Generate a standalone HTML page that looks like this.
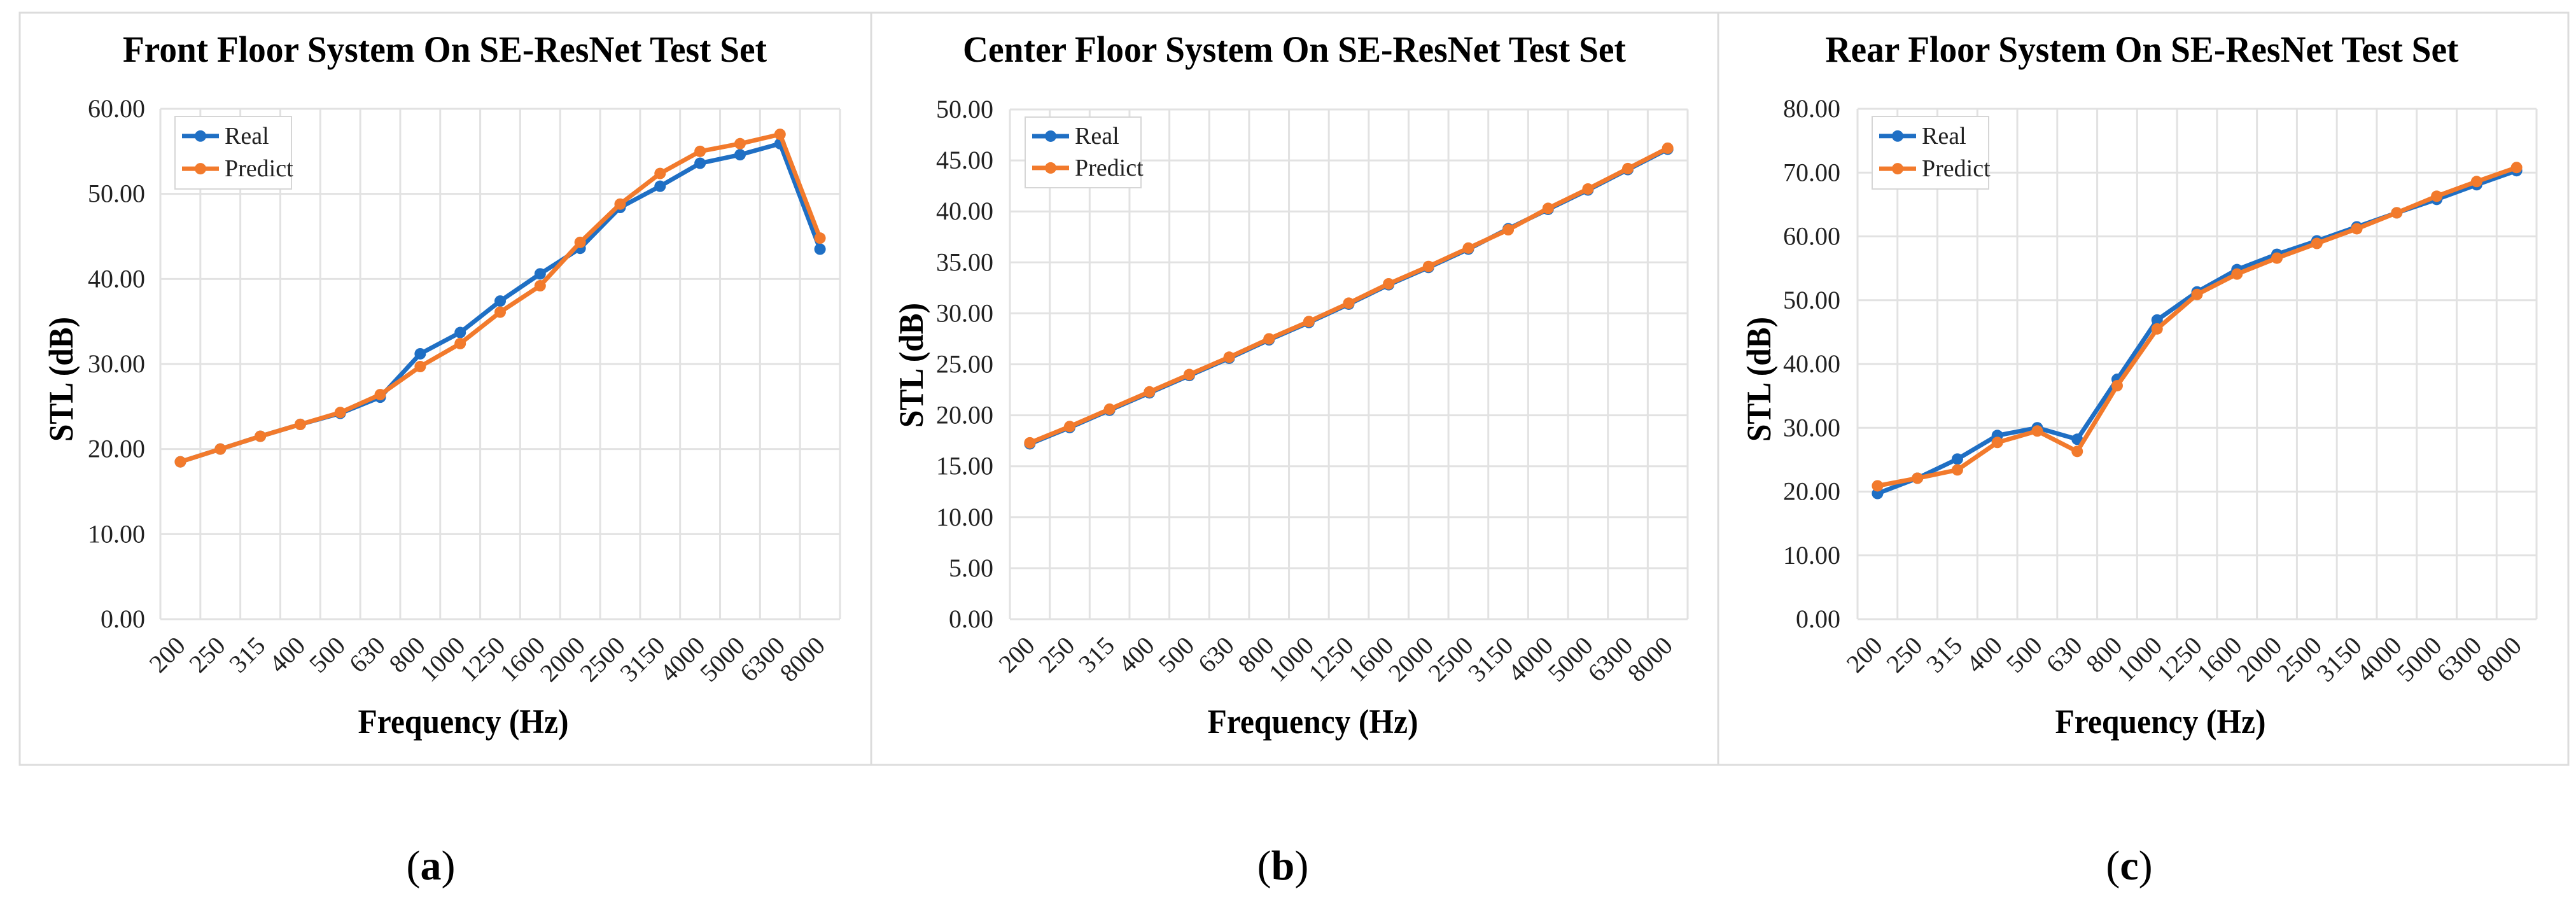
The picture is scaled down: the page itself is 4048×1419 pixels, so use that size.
<!DOCTYPE html>
<html><head><meta charset="utf-8"><style>
html,body{margin:0;padding:0;background:#fff;}
svg{display:block;font-family:"Liberation Serif",serif;}
</style></head><body>
<svg id="fig" width="4048" height="1419" viewBox="0 0 4048 1419"></svg>
<script>
const categories=["200","250","315","400","500","630","800","1000","1250","1600","2000","2500","3150","4000","5000","6300","8000"];
const frontReal=[18.5,20.0,21.5,22.9,24.2,26.1,31.2,33.7,37.4,40.6,43.6,48.4,50.9,53.6,54.6,55.9,43.5];
const frontPredict=[18.5,20.0,21.5,22.9,24.3,26.4,29.7,32.4,36.1,39.2,44.3,48.8,52.4,55.0,55.9,57.0,44.8];
const centerReal=[17.2,18.8,20.5,22.2,23.9,25.6,27.4,29.1,30.9,32.8,34.5,36.3,38.3,40.2,42.1,44.1,46.1];
const centerPredict=[17.3,18.9,20.6,22.3,24.0,25.7,27.5,29.2,31.0,32.9,34.6,36.4,38.2,40.3,42.2,44.2,46.2];
const rearReal=[19.7,22.1,25.1,28.8,30.0,28.2,37.6,46.9,51.3,54.8,57.2,59.3,61.5,63.7,65.8,68.1,70.3];
const rearPredict=[20.9,22.1,23.4,27.7,29.5,26.3,36.6,45.5,50.9,54.1,56.6,58.9,61.2,63.7,66.3,68.6,70.8];
const frontTicks=[0,10,20,30,40,50,60];
const centerTicks=[0,5,10,15,20,25,30,35,40,45,50];
const rearTicks=[0,10,20,30,40,50,60,70,80];

const NS="http://www.w3.org/2000/svg";
const svg=document.getElementById('fig');
function mk(tag,attrs,parent){const e=document.createElementNS(NS,tag);for(const k in attrs)e.setAttribute(k,attrs[k]);(parent||svg).appendChild(e);return e;}
const BLUE="#1f6fc4",ORANGE="#f27a2c",GRID="#e2e2e2";

const charts=[
 {key:'front',title:'Front Floor System On SE-ResNet Test Set',panel:[31,1369],L:252,R:1320,T:171,B:973,ticks:frontTicks,max:60,real:frontReal,pred:frontPredict,titleX:699,titleW:1012,ytX:96,tickR:228,freqX:728,leg:[275,183,183,114],cap:'a',capX:677},
 {key:'center',title:'Center Floor System On SE-ResNet Test Set',panel:[1369,2700],L:1587,R:2652,T:172,B:973,ticks:centerTicks,max:50,real:centerReal,pred:centerPredict,titleX:2034,titleW:1042,ytX:1432,tickR:1561,freqX:2063,leg:[1611,184,182,111],cap:'b',capX:2016},
 {key:'rear',title:'Rear Floor System On SE-ResNet Test Set',panel:[2700,4036],L:2919,R:3986,T:171,B:973,ticks:rearTicks,max:80,real:rearReal,pred:rearPredict,titleX:3366,titleW:995,ytX:2764,tickR:2892,freqX:3395,leg:[2942,183,183,114],cap:'c',capX:3346}
];

charts.forEach(c=>{
  const g=mk('g',{});
  
  
  const p=mk('rect',{x:c.panel[0],y:20,width:c.panel[1]-c.panel[0],height:1182,fill:'#fff',stroke:'#dcdcdc','stroke-width':3},g);
  
  
  const t=mk('text',{x:c.titleX,y:97,'text-anchor':'middle','font-size':58,'font-weight':'bold',textLength:c.titleW,lengthAdjust:'spacingAndGlyphs'},g);
  t.textContent=c.title;
  
  
  const n=categories.length, cw=(c.R-c.L)/n;
  const xc=i=>c.L+cw*(i+0.5);
  const y=v=>c.B-(v/c.max)*(c.B-c.T);
  c.ticks.forEach(v=>{
    const l=mk('line',{x1:c.L,x2:c.R,y1:y(v),y2:y(v),stroke:GRID,'stroke-width':3},g);
    
    
    const tx=mk('text',{x:c.tickR,y:y(v)+13,'text-anchor':'end','font-size':40,fill:'#222'},g);
    tx.textContent=v.toFixed(2);
    
    
  });
  for(let i=0;i<=n;i++){
    const l=mk('line',{x1:c.L+cw*i,x2:c.L+cw*i,y1:c.T,y2:c.B,stroke:GRID,'stroke-width':3},g);
    
    
  }
  categories.forEach((cat,i)=>{
    const tx=mk('text',{x:0,y:0,'text-anchor':'end','font-size':40,fill:'#222',transform:`translate(${xc(i)+10},${c.B+44}) rotate(-45)`},g);
    tx.textContent=cat;
    
    
  });
  const yt=mk('text',{x:0,y:0,'text-anchor':'middle','font-size':54,'font-weight':'bold',textLength:196,lengthAdjust:'spacingAndGlyphs',transform:`translate(${c.ytX+18},${c.key==='center'?574:596}) rotate(-90)`},g);
  yt.textContent='STL (dB)';
  
  
  const xt=mk('text',{x:c.freqX,y:1152,'text-anchor':'middle','font-size':54,'font-weight':'bold',textLength:331,lengthAdjust:'spacingAndGlyphs'},g);
  xt.textContent='Frequency (Hz)';
  
  
  [[c.real,BLUE,'real'],[c.pred,ORANGE,'predict']].forEach(([vals,col,nm])=>{
    const pts=vals.map((v,i)=>xc(i)+','+y(v)).join(' ');
    const pl=mk('polyline',{points:pts,fill:'none',stroke:col,'stroke-width':7,'stroke-linejoin':'round'},g);
    
    
    vals.forEach((v,i)=>{
      const m=mk('circle',{cx:xc(i),cy:y(v),r:9,fill:col},g);
      
      
    });
  });
  const [lx,ly,lw,lh]=c.leg;
  const lg=mk('g',{},g);
  
  
  mk('rect',{x:lx,y:ly,width:lw,height:lh,fill:'#fff',stroke:'#d6d6d6','stroke-width':2},lg);
  [['Real',BLUE,ly+lh*0.27],['Predict',ORANGE,ly+lh*0.72]].forEach(([lab,col,yy])=>{
    const e=mk('g',{},lg);
    
    
    mk('line',{x1:lx+11,x2:lx+69,y1:yy,y2:yy,stroke:col,'stroke-width':7},e);
    mk('circle',{cx:lx+40,cy:yy,r:9,fill:col},e);
    const tt=mk('text',{x:lx+78,y:yy+12,'font-size':38,fill:'#222'},e);
    tt.textContent=lab;
  });
  const cap=mk('text',{x:c.capX,y:1382,'text-anchor':'middle','font-size':66},svg);
  
  
  const s1=mk('tspan',{},cap);s1.textContent='(';
  const s2=mk('tspan',{'font-weight':'bold'},cap);s2.textContent=c.cap;
  const s3=mk('tspan',{},cap);s3.textContent=')';
});
</script>
</body></html>
